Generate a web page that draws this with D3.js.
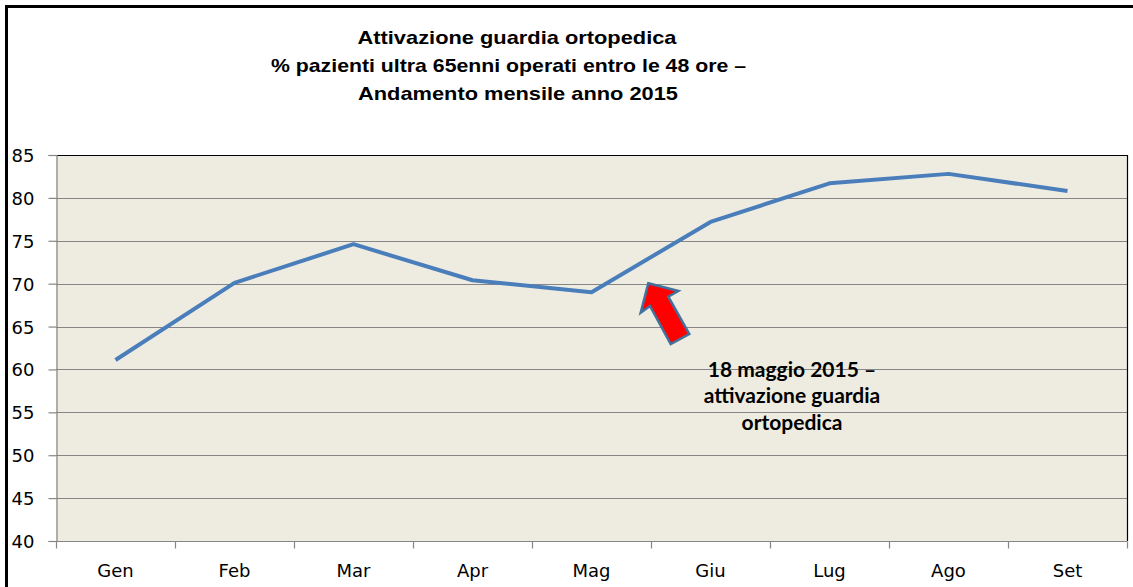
<!DOCTYPE html>
<html>
<head>
<meta charset="utf-8">
<script src="https://cdn.jsdelivr.net/npm/d3@7"></script>
<style>
  html, body { margin: 0; padding: 0; background: #fff; }
  svg { display: block; }
</style>
</head>
<body>
<svg id="chart" width="1133" height="587"></svg>
<script>
// ---- data ----
const months = ["Gen", "Feb", "Mar", "Apr", "Mag", "Giu", "Lug", "Ago", "Set"];
const values = [61.1, 70.1, 74.6, 70.4, 69.0, 77.2, 81.7, 82.8, 80.8];
const yTicks = [40, 45, 50, 55, 60, 65, 70, 75, 80, 85];
const titleLines = [
  "Attivazione guardia ortopedica",
  "% pazienti ultra 65enni operati entro le 48  ore –",
  "Andamento mensile anno 2015"
];
const noteLines = ["18 maggio 2015 –", "attivazione guardia", "ortopedica"];

// ---- layout ----
const svg = d3.select("#chart");
const plot = { left: 56, right: 1127, top: 155, bottom: 541 };

// outer frame
svg.append("rect")
  .attr("x", 6.5).attr("y", 6.5)
  .attr("width", 1140).attr("height", 600)
  .attr("fill", "none").attr("stroke", "#000").attr("stroke-width", 3);

const x = d3.scaleBand().domain(months).range([plot.left, plot.right]).paddingInner(0).paddingOuter(0);
const y = d3.scaleLinear().domain([40, 85]).range([plot.bottom, plot.top]);

// plot background
svg.append("rect")
  .attr("x", plot.left).attr("y", plot.top)
  .attr("width", plot.right - plot.left).attr("height", plot.bottom - plot.top)
  .attr("fill", "#EEECE1");

// gridlines
svg.append("g").selectAll("line")
  .data(yTicks.filter(d => d > 40 && d < 85))
  .join("line")
  .attr("x1", plot.left).attr("x2", plot.right)
  .attr("y1", d => Math.round(y(d)) + 0.5).attr("y2", d => Math.round(y(d)) + 0.5)
  .attr("stroke", "#868686").attr("stroke-width", 1.2);

// top & right plot border (black)
svg.append("path")
  .attr("d", `M${plot.left},${plot.top + 0.5}H${plot.right + 0.5}V${plot.bottom}`)
  .attr("fill", "none").attr("stroke", "#000").attr("stroke-width", 1.2);

// y axis
const yAxis = svg.append("g")
  .attr("transform", `translate(${plot.left + 0.5},0)`)
  .call(d3.axisLeft(y).tickValues(yTicks).tickSize(8).tickPadding(14).tickFormat(d3.format("d")));
yAxis.select(".domain").attr("stroke", "#868686").attr("stroke-width", 1.2);
yAxis.selectAll(".tick line").attr("stroke", "#868686").attr("stroke-width", 1.2);
yAxis.selectAll(".tick text")
  .attr("font-family", "DejaVu Sans, Verdana, sans-serif")
  .attr("font-size", 18).attr("fill", "#000")
  .attr("dy", "0.36em");

// x axis (ticks at category boundaries)
const xAxisG = svg.append("g").attr("transform", `translate(0,${plot.bottom + 0.5})`);
const bounds = months.map(m => x(m)).concat([plot.right]);
xAxisG.append("line")
  .attr("x1", plot.left).attr("x2", plot.right)
  .attr("stroke", "#868686").attr("stroke-width", 1.2);
xAxisG.selectAll("line.tk").data(bounds).join("line").attr("class", "tk")
  .attr("x1", d => d + 0.5).attr("x2", d => d + 0.5)
  .attr("y1", 0).attr("y2", 7)
  .attr("stroke", "#868686").attr("stroke-width", 1.2);
xAxisG.selectAll("text").data(months).join("text")
  .attr("x", d => x(d) + x.bandwidth() / 2)
  .attr("y", 35)
  .attr("text-anchor", "middle")
  .attr("font-family", "DejaVu Sans, Verdana, sans-serif")
  .attr("font-size", 18).attr("fill", "#000")
  .text(d => d);

// line
const line = d3.line()
  .x((d, i) => x(months[i]) + x.bandwidth() / 2)
  .y(d => y(d));
svg.append("path")
  .datum(values)
  .attr("d", line)
  .attr("fill", "none")
  .attr("stroke", "#4A7EBB")
  .attr("stroke-width", 4)
  .attr("stroke-linejoin", "round");

// title
const titleY = [44, 72, 100];
const titleW = [319, 475, 320];
const titleCx = [517, 508.5, 518];
svg.append("g").selectAll("text").data(titleLines).join("text")
  .attr("x", (d, i) => titleCx[i])
  .attr("y", (d, i) => titleY[i])
  .attr("text-anchor", "middle")
  .attr("font-family", "Liberation Sans, Arial, sans-serif")
  .attr("font-weight", "bold")
  .attr("font-size", 19)
  .attr("textLength", (d, i) => titleW[i])
  .attr("lengthAdjust", "spacingAndGlyphs")
  .attr("fill", "#000")
  .text(d => d);

// arrow annotation (pointing to the activation date, 18 May)
const arrowPts = [[648.3, 283.3], [678.3, 291], [668.3, 296.7], [689.3, 334], [670.7, 344], [650, 306], [640.7, 312.7]];
svg.append("polygon")
  .attr("points", arrowPts.map(p => p.join(",")).join(" "))
  .attr("fill", "#FF0000")
  .attr("stroke", "#41719C")
  .attr("stroke-width", 2.5)
  .attr("stroke-linejoin", "miter");

// note text
svg.append("g").selectAll("text").data(noteLines).join("text")
  .attr("x", 792)
  .attr("y", (d, i) => 376.5 + i * 26.8)
  .attr("text-anchor", "middle")
  .attr("font-family", "Lato, Open Sans, sans-serif")
  .attr("font-weight", "bold")
  .attr("font-size", 21)
  .attr("fill", "#000")
  .text(d => d);
</script>
</body>
</html>
